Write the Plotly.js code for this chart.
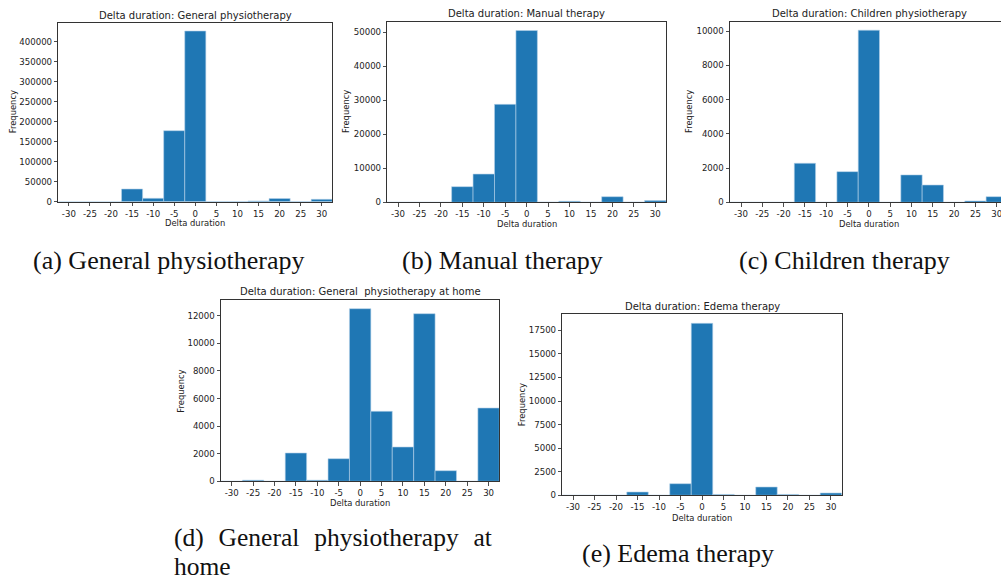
<!DOCTYPE html>
<html>
<head>
<meta charset="utf-8">
<script src="https://cdn.plot.ly/plotly-3.0.1.min.js"></script>
<style>
  html, body { margin: 0; padding: 0; background: #fff; }
  #chart { width: 1001px; height: 581px; }
</style>
</head>
<body>
<div id="chart"></div>
<script>
// ---- data (bin centres of width-5 histogram bins) ----
const bins = [-30, -25, -20, -15, -10, -5, 0, 5, 10, 15, 20, 25, 30];
const tickLabels = ['-30', '-25', '-20', '-15', '-10', '-5', '0', '5', '10', '15', '20', '25', '30'];

const generalPhysio = [0, 0, 0, 31750, 8400, 177500, 426750, 300, 300, 2000, 8000, 300, 6000];
const manualTherapy = [0, 0, 0, 4600, 8300, 28800, 50500, 50, 300, 50, 1650, 50, 500];
const childrenPhysio = [0, 0, 0, 2280, 0, 1790, 10050, 0, 1600, 1010, 0, 80, 330];
const homePhysio = [0, 80, 0, 2050, 80, 1638, 12507, 5072, 2485, 12145, 768, 0, 5311];
const edemaTherapy = [0, 0, 0, 350, 0, 1230, 18242, 90, 0, 880, 90, 0, 245];

const titles = [
  'Delta duration: General physiotherapy',
  'Delta duration: Manual therapy',
  'Delta duration: Children physiotherapy',
  'Delta duration: General&nbsp; physiotherapy at home',
  'Delta duration: Edema therapy'
];
// captions: [text, x(px), y(px), font size]
const captionLines = [
  ['(a) General physiotherapy', 31, 260, 26],
  ['(b) Manual therapy', 400, 261, 26],
  ['(c) Children therapy', 737, 261, 26],
  ['(d)\u2004 General\u2004 physiotherapy\u2004 at', 172, 537, 25.5],
  ['home', 172, 566.5, 25.5],
  ['(e) Edema therapy', 580, 553, 26]
];
const yTickVals = [
  [0, 50000, 100000, 150000, 200000, 250000, 300000, 350000, 400000],
  [0, 10000, 20000, 30000, 40000, 50000],
  [0, 2000, 4000, 6000, 8000, 10000],
  [0, 2000, 4000, 6000, 8000, 10000, 12000],
  [0, 2500, 5000, 7500, 10000, 12500, 15000, 17500]
];
const yMax = [447500, 53100, 10545, 13137, 19197];
const series = [generalPhysio, manualTherapy, childrenPhysio, homePhysio, edemaTherapy];

// ---- layout geometry (pixels) ----
const W = 1001, H = 581;
const boxes = [ // left, right, top, bottom (px)
  [58.3, 332.3, 22.7, 201.7],
  [387.3, 666, 21.7, 202.3],
  [730, 1001, 21.7, 202.3],
  [221, 499.3, 300, 481.3],
  [562.3, 841.7, 314.3, 495.3]
];
const xRanges = [[-32.5, 32.5], [-32.5, 32.5], [-32.58, 31.0], [-32.5, 32.5], [-32.5, 32.5]];
const titlePos = [[195.3, 15], [526.7, 14], [869, 14], [360, 291.5], [702, 306.5]];
const xLabelPos = [[195.3, 223], [526.7, 223.5], [869, 224], [360, 503], [702, 517.5]];
const yLabelPos = [[13.3, 112], [346, 112], [689, 112], [180.7, 391], [522.3, 405]];

const px = x => x / W;
const py = y => 1 - y / H;

const BLUE = '#1f77b4';
const TXT = '#222222';
const tickFont = { family: 'DejaVu Sans', size: 8.6, color: TXT };

const data = [];
const layout = {
  width: W, height: H,
  margin: { l: 0, r: 0, t: 0, b: 0 },
  paper_bgcolor: '#ffffff',
  plot_bgcolor: '#ffffff',
  showlegend: false,
  bargap: 0,
  annotations: []
};

series.forEach((vals, i) => {
  const n = i === 0 ? '' : String(i + 1);
  data.push({
    type: 'bar',
    x: bins,
    y: vals,
    width: 5,
    xaxis: 'x' + n,
    yaxis: 'y' + n,
    marker: { color: BLUE, line: { color: '#b5d2ea', width: 0.6 } },
    hoverinfo: 'x+y'
  });
  const b = boxes[i];
  layout['xaxis' + n] = {
    domain: [px(b[0]), px(b[1])],
    anchor: 'y' + n,
    range: xRanges[i],
    tickmode: 'array',
    tickvals: bins,
    ticktext: tickLabels,
    ticks: 'outside',
    ticklen: 3.5,
    tickwidth: 0.8,
    tickcolor: '#222',
    tickfont: tickFont,
    ticklabeloverflow: 'allow',
    showgrid: false,
    zeroline: false,
    showline: true,
    linecolor: '#333',
    linewidth: 1,
    mirror: true,
    fixedrange: true
  };
  layout['yaxis' + n] = {
    domain: [py(b[3]), py(b[2])],
    anchor: 'x' + n,
    range: [0, yMax[i]],
    tickmode: 'array',
    tickvals: yTickVals[i],
    ticktext: yTickVals[i].map(v => String(v)),
    ticks: 'outside',
    ticklen: 3.5,
    tickwidth: 0.8,
    tickcolor: '#222',
    tickfont: tickFont,
    showgrid: false,
    zeroline: false,
    showline: true,
    linecolor: '#333',
    linewidth: 1,
    mirror: i === 2 ? false : true,
    fixedrange: true
  };
  layout.annotations.push({
    text: titles[i], xref: 'paper', yref: 'paper',
    x: px(titlePos[i][0]), y: py(titlePos[i][1]),
    xanchor: 'center', yanchor: 'middle', showarrow: false,
    font: { family: 'DejaVu Sans', size: 10, color: TXT }
  });
  layout.annotations.push({
    text: 'Delta duration', xref: 'paper', yref: 'paper',
    x: px(xLabelPos[i][0]), y: py(xLabelPos[i][1]),
    xanchor: 'center', yanchor: 'middle', showarrow: false,
    font: { family: 'DejaVu Sans', size: 8.4, color: TXT }
  });
  layout.annotations.push({
    text: 'Frequency', xref: 'paper', yref: 'paper',
    x: px(yLabelPos[i][0]), y: py(yLabelPos[i][1]),
    xanchor: 'center', yanchor: 'middle', showarrow: false, textangle: -90,
    font: { family: 'DejaVu Sans', size: 8.4, color: TXT }
  });
});

captionLines.forEach(c => {
  layout.annotations.push({
    text: c[0], xref: 'paper', yref: 'paper',
    x: px(c[1]), y: py(c[2]),
    xanchor: 'left', yanchor: 'middle', align: 'left', showarrow: false,
    font: { family: 'Liberation Serif', size: c[3], color: '#111' }
  });
});

Plotly.newPlot('chart', data, layout, { staticPlot: true, displayModeBar: false });
</script>
</body>
</html>
